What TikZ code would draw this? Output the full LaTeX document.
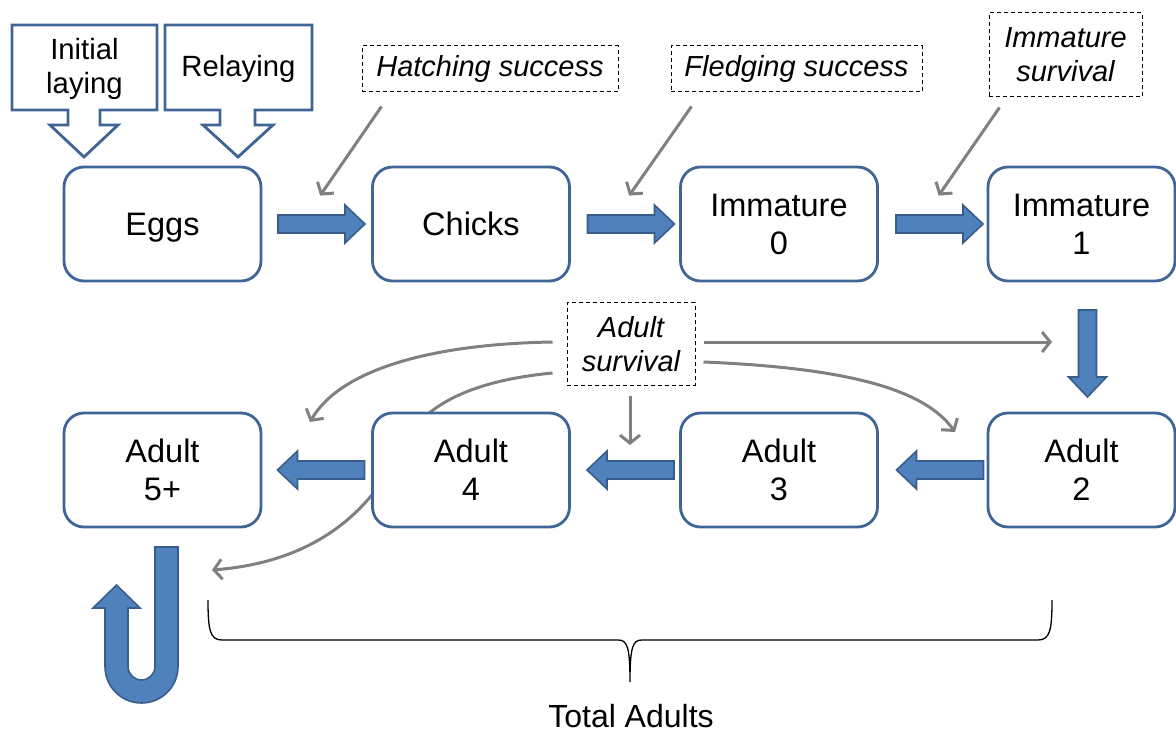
\documentclass[tikz,border=0pt]{standalone}
\usepackage{fontspec}
\setmainfont{Liberation Sans}
\usetikzlibrary{arrows.meta,calc}
\definecolor{boxblue}{RGB}{62,101,150}
\definecolor{arrowfill}{RGB}{79,129,189}
\definecolor{arrowedge}{RGB}{56,93,138}
\definecolor{linkgrey}{RGB}{128,128,128}

\begin{document}
\begin{tikzpicture}[x=1pt,y=1pt,yscale=-1,
  stage/.style={draw=boxblue, line width=2.8pt, rounded corners=20pt, fill=white,
    minimum width=197pt, minimum height=114pt, align=center, inner sep=0pt,
    font=\fontsize{32.5}{38}\selectfont},
  oneline/.style={text height=23pt, text depth=0pt},
  rate/.style={draw=black, line width=1pt, dash pattern=on 4pt off 3pt, fill=white,
    align=center, inner sep=0pt, font=\fontsize{29}{34}\selectfont\itshape},
  source/.style={draw=boxblue, line width=2.8pt, fill=white, line join=miter},
  sourcetext/.style={align=center, inner sep=0pt, font=\fontsize{29.3}{34}\selectfont},
  blockarrow/.pic={
    \draw[draw=arrowedge, fill=arrowfill, line width=1.6pt, line join=miter]
      (-43.5,-9) -- (23.5,-9) -- (23.5,-19) -- (43.5,0) -- (23.5,19)
      -- (23.5,9) -- (-43.5,9) -- cycle;
  },
  link/.style={draw=linkgrey, line width=3pt, -{Straight Barb[length=8pt,width=20pt]}},
]
\useasboundingbox (0,0) rectangle (1176,730);

% egg sources
\draw[source] (12,25) -- (157,25) -- (157,110) -- (100,110) -- (100,125) -- (118,125)
  -- (84,157) -- (50,125) -- (68,125) -- (68,110) -- (12,110) -- cycle;
\node[sourcetext] (initial) at (84.5,69) {Initial\\laying};
\draw[source] (165,25) -- (312,25) -- (312,110) -- (255,110) -- (255,125) -- (273,125)
  -- (238,157) -- (203,125) -- (220,125) -- (220,110) -- (165,110) -- cycle;
\node[sourcetext] (relaying) at (238.5,69) {Relaying};

% rate labels
\node[rate, minimum width=256pt, minimum height=46pt] (hatch) at (490,69) {Hatching success};
\node[rate, minimum width=251pt, minimum height=46pt] (fledge) at (796.5,69) {Fledging success};
\node[rate, minimum width=153pt, minimum height=84pt] (immsurv) at (1065.5,55) {Immature\\survival};
\node[rate, minimum width=128pt, minimum height=82pt] (adsurv) at (631,344) {Adult\\survival};

% survival links drawn beneath the stage boxes
\coordinate (tip5) at (310,422);
\coordinate (tiploop) at (212,570);
\coordinate (tip2) at (955,432);
\coordinate (tipright) at (1052,342);
\coordinate (tip3) at (630,445);
\draw[link] ($(adsurv.west)+(-14,-2)$) .. controls (430,344) and (340,370) .. (tip5);
\draw[link] ($(adsurv.west)+(-14,29)$) .. controls (480,380) and (430,400) .. (405,440)
  .. controls (385,485) and (340,560) .. (tiploop);
\draw[link] ($(adsurv.east)+(8,18)$) .. controls (850,368) and (925,390) .. (tip2);
\draw[link] ($(adsurv.east)+(8,-2)$) -- (tipright);
\draw[link] ($(adsurv.south)+(-1,10)$) -- (tip3);

% life stages
\node[stage, oneline] (eggs) at (162.5,224) {Eggs};
\node[stage, oneline] (chicks) at (471,224) {Chicks};
\node[stage] (imm0) at (779,224) {Immature\\0};
\node[stage, minimum width=187pt] (imm1) at (1081.5,224) {Immature\\1};
\node[stage] (ad5) at (162.5,470) {Adult\\5+};
\node[stage] (ad4) at (471,470) {Adult\\4};
\node[stage] (ad3) at (779,470) {Adult\\3};
\node[stage, minimum width=187pt] (ad2) at (1081.5,470) {Adult\\2};

% rate links onto the transitions
\draw[link] ($(hatch.south west)+(20,14)$) -- ($(chicks.north west)+(-51,30)$);
\draw[link] ($(fledge.south west)+(21,14)$) -- ($(imm0.north west)+(-50,30)$);
\draw[link] ($(immsurv.south west)+(11,10)$) -- ($(imm1.north west)+(-48,30)$);

% transitions between stages
\pic (f1) at (321.5,224) {blockarrow};
\pic (f2) at (631,224) {blockarrow};
\pic (f3) at (939.5,224) {blockarrow};
\pic[rotate=-90] (f4) at (1087.5,353.5) {blockarrow};
\pic[rotate=180] (f5) at (940,470) {blockarrow};
\pic[rotate=180] (f6) at (630.5,470) {blockarrow};
\pic[rotate=180] (f7) at (321,470) {blockarrow};

% adults staying in the oldest class
\draw[draw=arrowedge, fill=arrowfill, line width=1.6pt, line join=miter]
  (155,547) -- (178,547) -- (178,666.5) arc[start angle=0, end angle=180, radius=36.5pt]
  -- (105,608) -- (93,608) -- (116.5,585) -- (140,608) -- (128,608) -- (128,666.5)
  arc[start angle=180, end angle=0, radius=13.5pt] -- cycle;

% brace over the adult classes
\coordinate (bl) at (208,600);
\coordinate (br) at (1052,600);
\draw[black, line width=1.3pt]
  (bl) .. controls (208,630) and (210,640) .. (222,640) -- (618,640)
  .. controls (627,640) and (630,646) .. (630,682)
  .. controls (630,646) and (633,640) .. (642,640) -- (1038,640)
  .. controls (1050,640) and (1052,630) .. (br);
\node[font=\fontsize{32}{36}\selectfont, inner sep=0pt, text depth=0pt] (total) at (631,716) {Total Adults};
\end{tikzpicture}
\end{document}
